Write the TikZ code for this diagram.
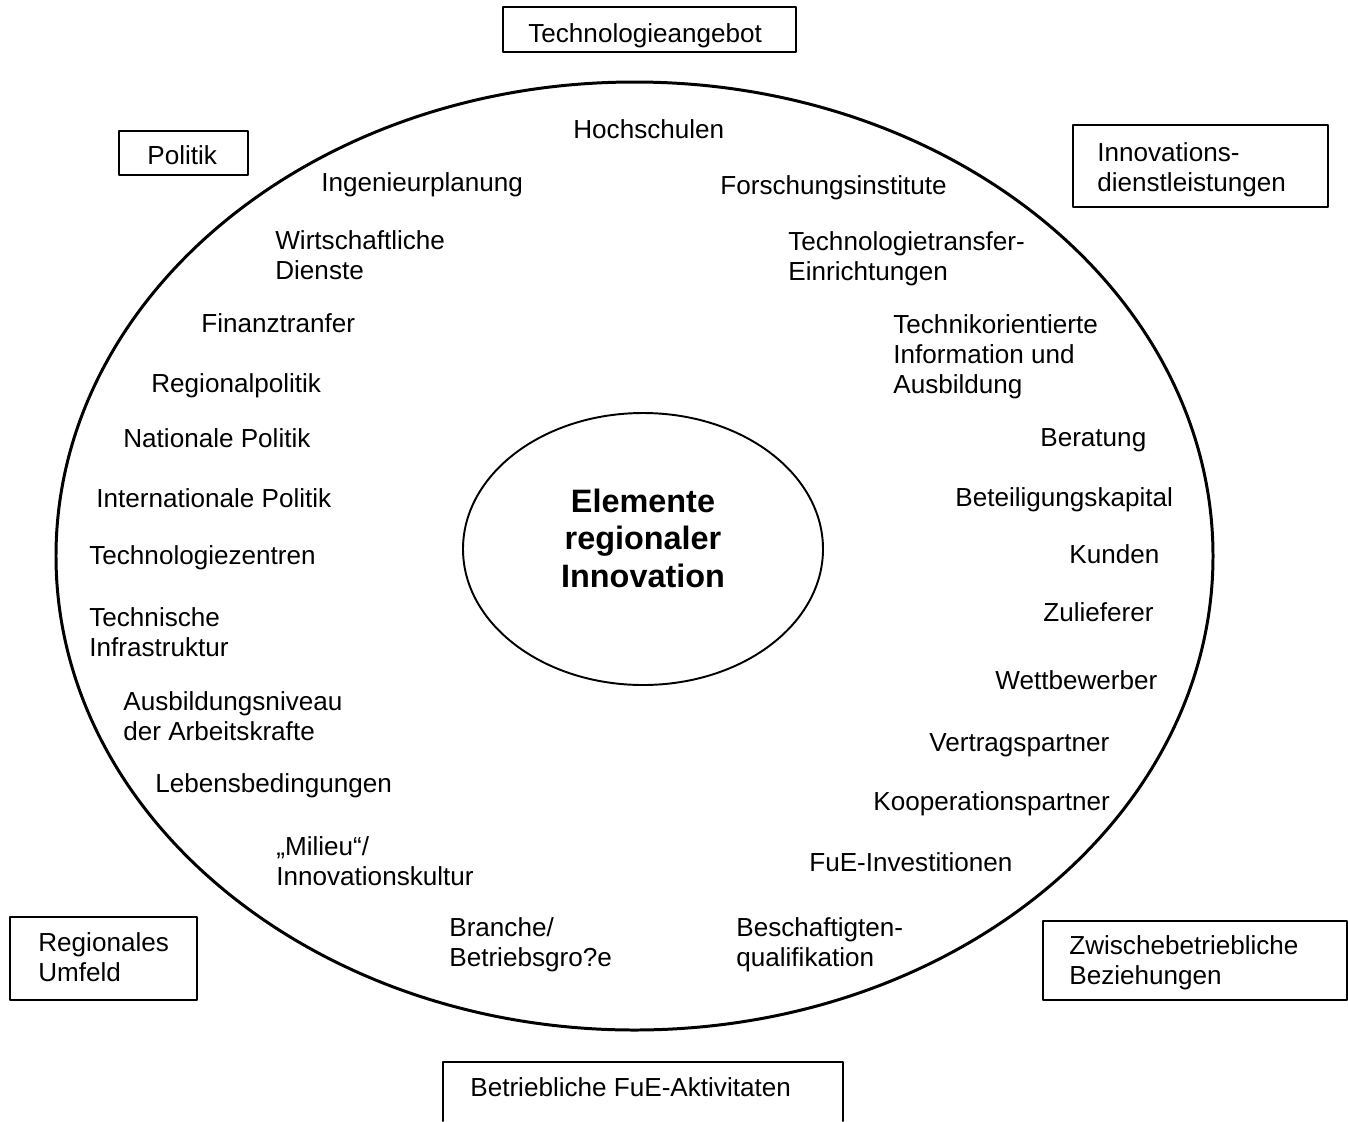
\documentclass[tikz,border=0pt]{standalone}
\usepackage{fontspec}
\setmainfont{Liberation Sans}

\begin{document}
\begin{tikzpicture}[x=0.2mm,y=-0.2mm,line cap=round,line join=round,
    lbl/.style={anchor=base west,inner sep=0pt,align=left,
      font=\fontsize{14.85}{17.07}\selectfont},
    framebox/.style={line width=1.1pt},
    title/.style={anchor=base,inner sep=0pt,align=center,
      font=\bfseries\fontsize{18.44}{21.3}\selectfont}]
  \useasboundingbox (0,0) rectangle (1348,1121);
  \draw[line width=1.7pt] (634.5,556) ellipse (578.5 and 474);
  \draw[line width=1.1pt] (643,549) ellipse (180 and 136);
  % mehrzeilige Knoten: Basislinie der letzten Zeile
  \node[title] (core) at (643,587) {Elemente\\regionaler\\Innovation};
  % Rahmen
  \draw[framebox] (503,7) rectangle (796,52);
  \draw[framebox] (119,131) rectangle (248,175);
  \draw[framebox] (1073,125) rectangle (1328,207);
  \draw[framebox] (10,917) rectangle (197,1000);
  \draw[framebox] (1043,921) rectangle (1347,1000);
  \draw[framebox] (443,1121) -- (443,1062) -- (843,1062) -- (843,1121);
  \node[lbl] (angebot) at (528,42) {Technologieangebot};
  \node[lbl] (politik) at (147,164) {Politik};
  \node[lbl] (dienst) at (1097,191) {Innovations-\\dienstleistungen};
  \node[lbl] (umfeld) at (38,981) {Regionales\\Umfeld};
  \node[lbl] (zwischen) at (1069,984) {Zwischebetriebliche\\Beziehungen};
  \node[lbl] (aktiv) at (470,1096) {Betriebliche FuE-Aktivitaten};
  % Ring
  \node[lbl] (hochschulen) at (573,138) {Hochschulen};
  \node[lbl] (ingenieur) at (321,191) {Ingenieurplanung};
  \node[lbl] (forschung) at (720,194) {Forschungsinstitute};
  \node[lbl] (wirtschaft) at (275,279) {Wirtschaftliche\\Dienste};
  \node[lbl] (transfer) at (788,280) {Technologietransfer-\\Einrichtungen};
  \node[lbl] (finanz) at (201,332) {Finanztranfer};
  \node[lbl] (technik) at (893,393) {Technikorientierte\\Information und\\Ausbildung};
  \node[lbl] (regpol) at (151,392) {Regionalpolitik};
  \node[lbl] (natpol) at (123,447) {Nationale Politik};
  \node[lbl] (beratung) at (1040,446) {Beratung};
  \node[lbl] (intpol) at (96,507) {Internationale Politik};
  \node[lbl] (kapital) at (955,506) {Beteiligungskapital};
  \node[lbl] (zentren) at (89,564) {Technologiezentren};
  \node[lbl] (kunden) at (1069,563) {Kunden};
  \node[lbl] (infra) at (89,656) {Technische\\Infrastruktur};
  \node[lbl] (zulief) at (1043,621) {Zulieferer};
  \node[lbl] (wettb) at (995,689) {Wettbewerber};
  \node[lbl] (niveau) at (123,740) {Ausbildungsniveau\\der Arbeitskrafte};
  \node[lbl] (vertrag) at (929,751) {Vertragspartner};
  \node[lbl] (leben) at (155,792) {Lebensbedingungen};
  \node[lbl] (koop) at (873,810) {Kooperationspartner};
  \node[lbl] (milieu) at (276,885) {„Milieu“/\\Innovationskultur};
  \node[lbl] (invest) at (809,871) {FuE-Investitionen};
  \node[lbl] (branche) at (449,966) {Branche/\\Betriebsgro?e};
  \node[lbl] (quali) at (736,966) {Beschaftigten-\\qualifikation};
\end{tikzpicture}
\end{document}
